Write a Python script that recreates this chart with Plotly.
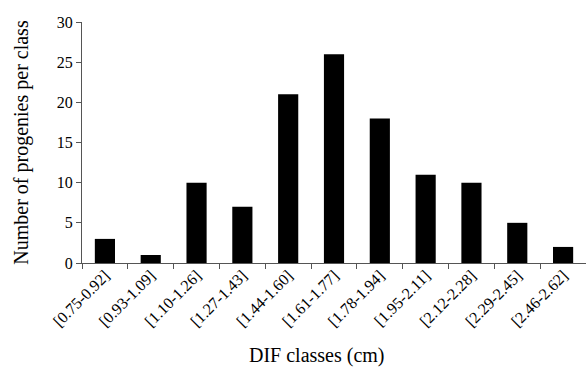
import plotly.graph_objects as go

classes = ["[0.75-0.92]", "[0.93-1.09]", "[1.10-1.26]", "[1.27-1.43]", "[1.44-1.60]",
           "[1.61-1.77]", "[1.78-1.94]", "[1.95-2.11]", "[2.12-2.28]", "[2.29-2.45]",
           "[2.46-2.62]"]
counts = [3, 1, 10, 7, 21, 26, 18, 11, 10, 5, 2]
y_ticks = [0, 5, 10, 15, 20, 25, 30]

font_family = "Liberation Serif"

fig = go.Figure(go.Bar(x=classes, y=counts, marker=dict(color="black", line=dict(color="black", width=0))))

fig.update_layout(
    width=586, height=368,
    margin=dict(l=82, r=0, t=22, b=105),
    paper_bgcolor="white", plot_bgcolor="white",
    bargap=0.56,
    showlegend=False,
    font=dict(family=font_family, color="black", size=16),
    annotations=[dict(
        text="DIF classes (cm)", xref="paper", yref="paper",
        x=0.466, y=-0.383, xanchor="center", yanchor="middle",
        borderpad=0,
        showarrow=False, font=dict(family=font_family, size=20, color="black"),
    )],
)
fig.update_xaxes(
    type="category",
    automargin=False,
    tickangle=-45,
    ticks="outside", ticklen=5, tickcolor="#555", tickson="boundaries",
    showline=True, linecolor="#555", linewidth=1,
    showgrid=False,
    ticklabelstandoff=-4,
    tickfont=dict(family=font_family, size=16, color="black"),
)
fig.update_yaxes(
    automargin=False,
    range=[0, 30], tickvals=y_ticks,
    ticks="outside", ticklen=5, tickcolor="#555",
    showline=True, linecolor="#555", linewidth=1,
    showgrid=False, zeroline=False,
    tickfont=dict(family=font_family, size=16, color="black"),
    title=dict(text="Number of progenies per class", font=dict(family=font_family, size=20, color="black"), standoff=22),
)

fig.write_html("out.html", post_script="document.body.style.margin='0';",
               config={"displayModeBar": False})
